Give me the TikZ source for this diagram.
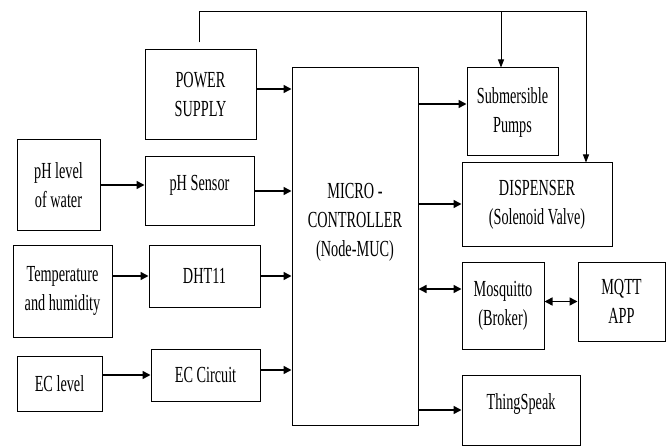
\documentclass[tikz,border=0pt]{standalone}
\usepackage{fontspec}
\setmainfont[FakeStretch=0.62]{Liberation Serif}
\usetikzlibrary{arrows.meta}

\begin{document}
\begin{tikzpicture}[
      x=1pt, y=-1pt,
      font=\fontsize{23}{29}\selectfont,
      box/.style={draw, line width=1pt, align=center, inner sep=2pt},
      arr/.style={-{Triangle[length=8pt,width=8pt]}, line width=1.5pt},
      barr/.style={{Triangle[length=8pt,width=8pt]}-{Triangle[length=8pt,width=8pt]}, line width=1.5pt},
      fb/.style={line width=0.9pt},
      fbarr/.style={-{Triangle[length=8pt,width=6pt]}, line width=0.9pt},
    ]
    \useasboundingbox (0,0) rectangle (668,446);

    % Inputs and sensors (left)
    \node (power) [box, minimum width=111pt, minimum height=90pt] at (200.5,95) {POWER\\SUPPLY};
    \node (phlevel) [box, minimum width=83pt, minimum height=90pt] at (58.5,185) {pH level\\of water};
    \node (phsensor) [box, minimum width=109pt, minimum height=68pt, text depth=16pt] at (199.5,191) {pH Sensor};
    \node (temp) [box, minimum width=99pt, minimum height=92pt] at (62.5,291) {Temperature\\and humidity};
    \node (dht) [box, minimum width=111pt, minimum height=62pt] at (204.5,276) {DHT11};
    \node (eclevel) [box, minimum width=85pt, minimum height=55pt] at (59.5,383.5) {EC level};
    \node (eccircuit) [box, minimum width=109pt, minimum height=52pt] at (205.5,375) {EC Circuit};

    % Controller
    \node (micro) [box, minimum width=126pt, minimum height=357pt, text depth=54pt] at (355,246.5) {MICRO -\\CONTROLLER\\(Node-MUC)};

    % Outputs (right)
    \node (pumps) [box, minimum width=91pt, minimum height=88pt] at (512.5,112) {Submersible\\Pumps};
    \node (disp) [box, minimum width=150pt, minimum height=83pt] at (537,204.5) {DISPENSER\\(Solenoid Valve)};
    \node (mosq) [box, minimum width=82pt, minimum height=87pt] at (503,305.5) {Mosquitto\\(Broker)};
    \node (mqtt) [box, minimum width=87pt, minimum height=79pt] at (621.5,301.5) {MQTT\\APP};
    \node (thing) [box, minimum width=118pt, minimum height=70pt, text depth=16pt] at (521,410) {ThingSpeak};

    \draw [arr] ([yshift=6pt]power.east) -- ([yshift=6pt]power.east -| micro.west);
    \draw [arr] (phlevel.east) -- (phlevel.east -| phsensor.west);
    \draw [arr] (phsensor.east) -- (phsensor.east -| micro.west);
    \draw [arr] (dht.west -| temp.east) -- (dht.west);
    \draw [arr] (dht.east) -- (dht.east -| micro.west);
    \draw [arr] (eccircuit.west -| eclevel.east) -- (eccircuit.west);
    \draw [arr] ([yshift=5pt]eccircuit.east) -- ([yshift=5pt]eccircuit.east -| micro.west);
    \draw [arr] ([yshift=8pt]pumps.west -| micro.east) -- ([yshift=8pt]pumps.west);
    \draw [arr] ([yshift=0.5pt]disp.west -| micro.east) -- ([yshift=0.5pt]disp.west);
    \draw [barr] ([yshift=16.5pt]mosq.west -| micro.east) -- ([yshift=16.5pt]mosq.west);
    \draw [barr] (mqtt.west -| mosq.east) -- (mqtt.west);
    \draw [arr] (thing.west -| micro.east) -- (thing.west);

    % Supply line over the top
    \coordinate (pumpin) at ([xshift=-11.5pt]pumps.north);
    \coordinate (dispin) at ([xshift=49pt]disp.north);
    \draw [fb] ([xshift=-1.5pt,yshift=7pt]power.north) -- ++(0,-31) coordinate (fbl);
    \draw [fbarr] (fbl) -| (dispin);
    \draw [fbarr] (pumpin |- fbl) -- (pumpin);
\end{tikzpicture}
\end{document}
